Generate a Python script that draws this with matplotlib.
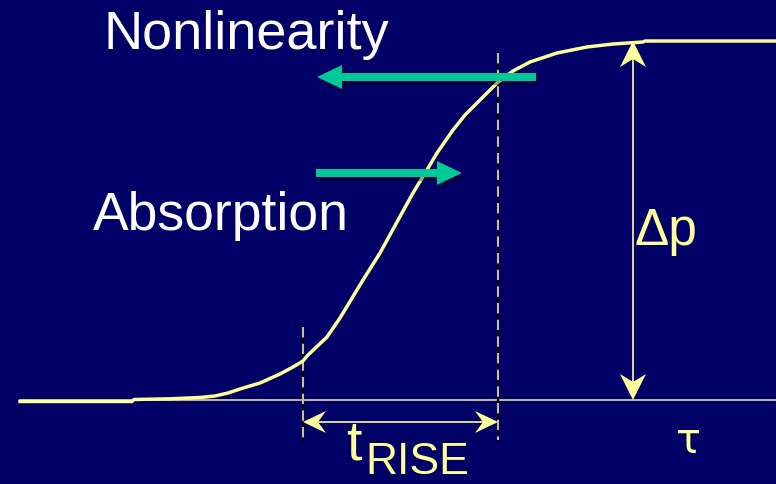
import numpy as np
import matplotlib.pyplot as plt
from matplotlib.patches import Polygon, FancyArrow
import matplotlib.patheffects as pe

# Step response of pressure vs. time (screen-like units, y grows downward)
t_curve = [20, 132, 134, 170, 200, 215, 228, 240, 260, 280, 293, 303, 308,
           327, 340, 363, 380, 397, 413, 427, 437, 453, 465, 477, 487, 497,
           513, 530, 557, 587, 613, 643, 645, 776]
p_curve = [401.5, 401.5, 399.5, 398.8, 397.5, 396, 393, 389, 383, 374, 367,
           361, 355, 337, 318, 280, 253, 222, 193, 170, 153, 130, 115, 103, 93,
           83, 71, 62, 53, 47, 44, 42, 41, 41]

baseline_y = 400
baseline_x = [20, 776]
p_low, p_high = 400, 41
t_start, t_end = 303, 498          # 10% / 90% markers
marker_top = [327, 53]
marker_bottom = 440
rise_arrow_y = 422
dp_arrow_x = 633

# arrows for the two competing effects: (tail x, tip x, y)
nonlin_arrow = (536, 317, 77)
absorb_arrow = (316, 462, 173)

bg = '#000066'
yellow = '#FFFF99'
teal = '#00C896'

fig = plt.figure(figsize=(7.76, 4.84), dpi=100)
fig.patch.set_facecolor(bg)
ax = fig.add_axes([0, 0, 1, 1])
ax.set_facecolor(bg)
ax.set_xlim(0, 776)
ax.set_ylim(484, 0)
ax.axis('off')


def head(ax, tip, direction, length=24, width=24, notch=8):
    # barbed arrowhead polygon in data units
    tx, ty = tip
    dx, dy = direction
    nx, ny = -dy, dx
    back = (tx - dx * length, ty - dy * length)
    pts = [tip,
           (back[0] + nx * width / 2, back[1] + ny * width / 2),
           (tx - dx * (length - notch), ty - dy * (length - notch)),
           (back[0] - nx * width / 2, back[1] - ny * width / 2)]
    ax.add_patch(Polygon(pts, closed=True, color=yellow, zorder=5, lw=0))


# time axis
ax.plot(baseline_x, [baseline_y, baseline_y], color='#F0F0A0', lw=1.1, zorder=2)

# marker lines at start and end of rise
for x, top in zip([t_start, t_end], marker_top):
    ax.plot([x, x], [top, marker_bottom], color='black', lw=1.5, zorder=3)
    ax.plot([x, x], [top, marker_bottom], color='#C8C090', lw=1.5,
            dashes=(5, 3), zorder=3)

# the response curve
ax.plot(t_curve, p_curve, color=yellow, lw=2.5, solid_joinstyle='round',
        zorder=4)

# rise-time arrow
ax.plot([t_start + 10, t_end - 10], [rise_arrow_y, rise_arrow_y], color=yellow,
        lw=1.2, zorder=5)
head(ax, (t_start, rise_arrow_y), (-1, 0), length=23, width=22)
head(ax, (t_end, rise_arrow_y), (1, 0), length=23, width=22)

# pressure step arrow
ax.plot([dp_arrow_x, dp_arrow_x], [p_high + 10, p_low - 10], color=yellow,
        lw=1.2, zorder=5)
head(ax, (dp_arrow_x, p_high), (0, -1), length=26, width=26)
head(ax, (dp_arrow_x, p_low), (0, 1), length=26, width=26)

# nonlinearity / absorption arrows
shadow = [pe.SimplePatchShadow(offset=(2, -3), shadow_rgbFace='black',
                               alpha=0.35), pe.Normal()]
for tail, tip, y in [nonlin_arrow, absorb_arrow]:
    arr = FancyArrow(tail, y, tip - tail, 0, width=8, head_width=24,
                     head_length=25, length_includes_head=True, color=teal,
                     lw=0, zorder=6)
    arr.set_path_effects(shadow)
    ax.add_patch(arr)

font = 'Liberation Sans'
ax.text(103, 49, 'Nonlinearity', color='white', fontsize=39, family=font,
        va='baseline', ha='left', zorder=7)
ax.text(93, 230, 'Absorption', color='white', fontsize=38.5, family=font,
        va='baseline', ha='left', zorder=7)
ax.text(635, 245, '\u0394p', color=yellow, fontsize=37, family=font,
        va='baseline', ha='left', zorder=7)
ax.text(346, 459, 't', color=yellow, fontsize=40, family=font,
        va='baseline', ha='left', zorder=7)
ax.text(365, 474, 'RISE', color=yellow, fontsize=32, family=font,
        va='baseline', ha='left', zorder=7)
ax.text(676, 453, '\u03c4', color=yellow, fontsize=30, family='DejaVu Sans',
        va='baseline', ha='left', zorder=7)

fig.savefig('out.png', dpi=100, facecolor=bg)
